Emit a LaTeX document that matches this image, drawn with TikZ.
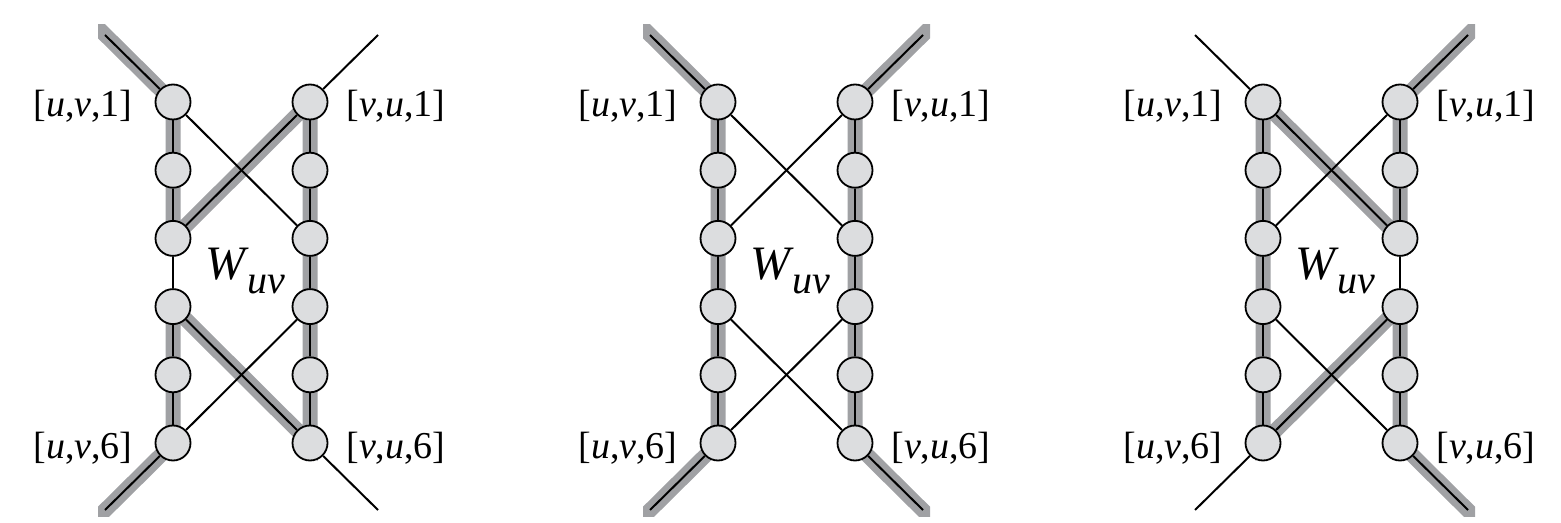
\documentclass[tikz,border=0pt]{standalone}
\usepackage{fontspec}
\setmainfont{Liberation Serif}
\definecolor{hlgray}{RGB}{160,161,164}
\definecolor{nodefill}{RGB}{220,221,223}
\pgfdeclarelayer{hl}
\pgfdeclarelayer{edges}
\pgfsetlayers{hl,edges,main}
\tikzset{
  vtx/.style={circle, draw=black, line width=0.9pt, fill=nodefill, minimum size=17.5pt, inner sep=0pt},
  edge/.style={line width=1pt, draw=black},
  hl/.style={line width=7.5pt, draw=hlgray, line join=miter, line cap=butt},
  lab/.style={font=\fontsize{19}{21}\selectfont, inner sep=0pt},
  wlab/.style={inner sep=0pt},
}
\newcommand{\mkpanel}[2]{%
  \foreach \i in {1,...,6}{
    \node[vtx] (#1u\i) at ({173+#2},{102+(\i-1)*68.2}) {};
    \node[vtx] (#1v\i) at ({310+#2},{102+(\i-1)*68.2}) {};
  }
  \coordinate (#1tl) at ([shift={(-68,-67)}]#1u1.center);
  \coordinate (#1tr) at ([shift={(68,-67)}]#1v1.center);
  \coordinate (#1bl) at ([shift={(-68,67)}]#1u6.center);
  \coordinate (#1br) at ([shift={(68,67)}]#1v6.center);
  \coordinate (#1tlg) at ([shift={(-100,-99)}]#1u1.center);
  \coordinate (#1trg) at ([shift={(100,-99)}]#1v1.center);
  \coordinate (#1blg) at ([shift={(-100,99)}]#1u6.center);
  \coordinate (#1brg) at ([shift={(100,99)}]#1v6.center);
  \begin{pgfonlayer}{edges}
    \foreach \i/\j in {1/2,2/3,3/4,4/5,5/6}{
      \draw[edge] (#1u\i) -- (#1u\j);
      \draw[edge] (#1v\i) -- (#1v\j);
    }
    \draw[edge] (#1u1) -- (#1v3);
    \draw[edge] (#1v1) -- (#1u3);
    \draw[edge] (#1u4) -- (#1v6);
    \draw[edge] (#1v4) -- (#1u6);
    \draw[edge] (#1u1) -- (#1tl);
    \draw[edge] (#1v1) -- (#1tr);
    \draw[edge] (#1u6) -- (#1bl);
    \draw[edge] (#1v6) -- (#1br);
  \end{pgfonlayer}
  \node[lab, anchor=base east] (#1l1) at ({133+#2},117) {[\textit{u},\textit{v},1]};
  \node[lab, anchor=base west] (#1r1) at ({346+#2},117) {[\textit{v},\textit{u},1]};
  \node[lab, anchor=base east] (#1l6) at ({133+#2},458) {[\textit{u},\textit{v},6]};
  \node[lab, anchor=base west] (#1r6) at ({346+#2},458) {[\textit{v},\textit{u},6]};
  \node[wlab, anchor=base west] (#1w) at ({205+#2},280)
    {\fontsize{24}{26}\selectfont\textit{W}\kern-1pt\raisebox{-6.5pt}{\fontsize{20}{22}\selectfont\textit{uv}}};
}
\newcommand{\hlclip}[1]{\clip ({98+#1},25) rectangle ({385+#1},516);}
\begin{document}
\begin{tikzpicture}[x=0.5pt,y=-0.5pt]
  \useasboundingbox (0,0) rectangle (1561,523);
  \mkpanel{a}{0}
  \mkpanel{b}{545}
  \mkpanel{c}{1090}
  \begin{pgfonlayer}{hl}
    \begin{scope}
      \hlclip{0}
      \draw[hl] (atlg) -- (au1.center) -- (au2.center) -- (au3.center) -- (av1.center)
        -- (av2.center) -- (av3.center) -- (av4.center) -- (av5.center) -- (av6.center)
        -- (au4.center) -- (au5.center) -- (au6.center) -- (ablg);
    \end{scope}
    \begin{scope}
      \hlclip{545}
      \draw[hl] (btlg) -- (bu1.center) -- (bu2.center) -- (bu3.center) -- (bu4.center)
        -- (bu5.center) -- (bu6.center) -- (bblg);
      \draw[hl] (btrg) -- (bv1.center) -- (bv2.center) -- (bv3.center) -- (bv4.center)
        -- (bv5.center) -- (bv6.center) -- (bbrg);
    \end{scope}
    \begin{scope}
      \hlclip{1090}
      \draw[hl] (ctrg) -- (cv1.center) -- (cv2.center) -- (cv3.center) -- (cu1.center)
        -- (cu2.center) -- (cu3.center) -- (cu4.center) -- (cu5.center) -- (cu6.center)
        -- (cv4.center) -- (cv5.center) -- (cv6.center) -- (cbrg);
    \end{scope}
  \end{pgfonlayer}
\end{tikzpicture}
\end{document}
